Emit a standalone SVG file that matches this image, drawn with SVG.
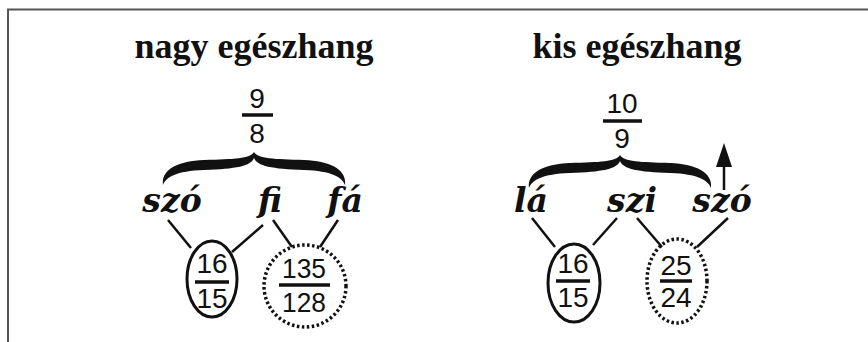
<svg xmlns="http://www.w3.org/2000/svg" width="868" height="342" viewBox="0 0 868 342">
<style>
.title{font-family:"Liberation Serif","Times New Roman",serif;font-weight:bold;font-size:36px;fill:#111;text-anchor:middle}
.num{font-family:"Liberation Sans",Arial,sans-serif;font-size:28px;fill:#111;text-anchor:middle}
.syl{font-family:"DejaVu Serif",serif;font-weight:bold;font-style:italic;font-size:33px;fill:#111;text-anchor:middle}
.bar{stroke:#111;stroke-width:3.5}
.ln{stroke:#111;stroke-width:2.5;fill:none}
.ell{stroke:#111;stroke-width:3;fill:none}
.dot{stroke:#111;stroke-width:3.5;fill:none;stroke-dasharray:2.5 2.5}
</style>
<defs>
<path id="brace" d="M-91,33 C-93,18 -77,9 -50,8 C-20,7 -4,7 0,0 C4,7 20,7 50,8 C77,9 93,18 91,33 C88,25 78,19 50,18 C18,17 3,14 0,6 C-3,14 -18,17 -50,18 C-78,19 -88,25 -91,33 Z" fill="#111"/>
</defs>
<path d="M8,342 V9.5 H868" stroke="#555" stroke-width="2" fill="none"/>

<g id="left-title"><text class="title" x="254" y="58">nagy egészhang</text></g>
<g id="right-title"><text class="title" x="637" y="58">kis egészhang</text></g>

<g id="ratio-9-8">
<text class="num" x="257" y="108">9</text>
<line class="bar" x1="242" y1="115" x2="273" y2="115"/>
<text class="num" x="257" y="143">8</text>
</g>
<g id="ratio-10-9">
<text class="num" x="622" y="113">10</text>
<line class="bar" x1="603" y1="121" x2="642" y2="121"/>
<text class="num" x="622" y="148">9</text>
</g>

<g id="brace-left"><use href="#brace" transform="translate(254,152)"/></g>
<g id="brace-right"><use href="#brace" transform="translate(620,155)"/></g>

<g id="syl-szo-1"><text class="syl" x="172" y="212">szó</text></g>
<g id="syl-fi"><text class="syl" x="270" y="212">fi</text></g>
<g id="syl-fa"><text class="syl" x="345" y="212">fá</text></g>
<g id="syl-la"><text class="syl" x="531" y="212">lá</text></g>
<g id="syl-szi"><text class="syl" x="632" y="212">szi</text></g>
<g id="syl-szo-2"><text class="syl" x="722" y="212">szó</text></g>

<g id="ratio-16-15-a">
<ellipse class="ell" cx="212" cy="279" rx="25" ry="38"/>
<text class="num" x="212" y="273">16</text>
<line class="bar" x1="195" y1="282" x2="229" y2="282"/>
<text class="num" x="212" y="308">15</text>
</g>
<g id="ratio-135-128">
<ellipse class="dot" cx="305" cy="286" rx="41" ry="41"/>
<text class="num" x="304" y="278" textLength="44" lengthAdjust="spacingAndGlyphs">135</text>
<line class="bar" x1="279" y1="285" x2="330" y2="285"/>
<text class="num" x="304" y="312" textLength="44" lengthAdjust="spacingAndGlyphs">128</text>
</g>
<g id="ratio-16-15-b">
<ellipse class="ell" cx="574" cy="283" rx="26" ry="39"/>
<text class="num" x="573" y="273">16</text>
<line class="bar" x1="556" y1="281" x2="590" y2="281"/>
<text class="num" x="573" y="307">15</text>
</g>
<g id="ratio-25-24">
<ellipse class="dot" cx="677" cy="281" rx="30" ry="42"/>
<text class="num" x="676" y="275">25</text>
<line class="bar" x1="660" y1="281" x2="692" y2="281"/>
<text class="num" x="676" y="307">24</text>
</g>

<g id="connectors">
<line class="ln" x1="168" y1="220" x2="191" y2="248"/>
<line class="ln" x1="263" y1="225" x2="232" y2="252"/>
<line class="ln" x1="273" y1="220" x2="292" y2="247"/>
<line class="ln" x1="338" y1="220" x2="320" y2="247"/>
<line class="ln" x1="532" y1="218" x2="555" y2="247"/>
<line class="ln" x1="617" y1="218" x2="593" y2="245"/>
<line class="ln" x1="637" y1="218" x2="662" y2="247"/>
<line class="ln" x1="728" y1="218" x2="697" y2="247"/>
<line class="ln" x1="724" y1="190" x2="724" y2="160"/>
<path d="M724,143 L732,167 L716,167 Z" fill="#111"/>
</g>
</svg>
